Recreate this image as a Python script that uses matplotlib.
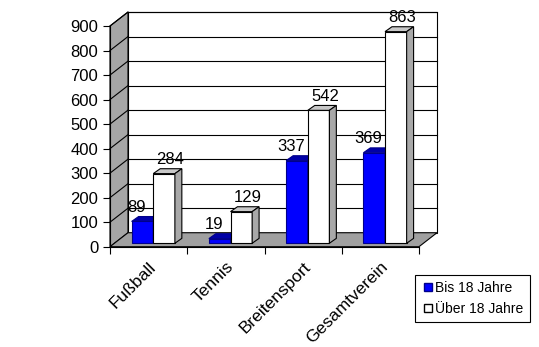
import numpy as np
import matplotlib.pyplot as plt
from matplotlib.patches import Polygon
from matplotlib.lines import Line2D

plt.rcParams['font.family'] = ['Liberation Sans', 'DejaVu Sans']

categories = ['Fußball', 'Tennis', 'Breitensport', 'Gesamtverein']
bis18 = [89, 19, 337, 369]
ueber18 = [284, 129, 542, 863]
series_names = ['Bis 18 Jahre', 'Über 18 Jahre']
yticks = np.arange(0, 1000, 100)

W, H = 539, 347
fig = plt.figure(figsize=(W / 100, H / 100), dpi=100)
ax = fig.add_axes([110 / W, 1 - 246.7 / H, 309 / W, 220.7 / H])
ax.set_xlim(-0.5, 3.5)
ax.set_ylim(0, 900)
ax.patch.set_visible(False)

# depth of the pseudo-3D box (data units)
DX, DY = 0.233, 57
# bar depth and offset from front plane
BX0, BY0 = 0.06, 14
BDX, BDY = 0.09, 20
bw = 0.28

def poly(pts, fc, ec='black', lw=0.8, z=1):
    ax.add_patch(Polygon(pts, closed=True, facecolor=fc, edgecolor=ec,
                         linewidth=lw, clip_on=False, zorder=z))

x0, x1 = -0.5, 3.5
ytop = yticks[-1]
# back wall
poly([(x0 + DX, DY), (x1 + DX, DY), (x1 + DX, ytop + DY), (x0 + DX, ytop + DY)], 'white', z=0)
# left wall
poly([(x0, 0), (x0 + DX, DY), (x0 + DX, ytop + DY), (x0, ytop)], '#a6a6a6', z=0.5)
# floor
poly([(x0, 0), (x1, 0), (x1 + DX, DY), (x0 + DX, DY)], '#a0a0a0', z=0.6)
# gridlines
for v in yticks[1:]:
    ax.plot([x0 + DX, x1 + DX], [v + DY, v + DY], color='black', lw=0.8, zorder=0.4, clip_on=False)
    ax.plot([x0, x0 + DX], [v, v + DY], color='black', lw=0.8, zorder=0.55, clip_on=False)

def bar3d(xl, h, front, top, side, ec):
    xf = xl + BX0
    yf = BY0
    ax.bar(xf, h, bottom=yf, width=bw, align='edge', color=front,
           edgecolor=ec, linewidth=0.8, zorder=2, clip_on=False)
    poly([(xf, yf + h), (xf + bw, yf + h), (xf + bw + BDX, yf + h + BDY), (xf + BDX, yf + h + BDY)],
         top, ec=ec, z=2)
    poly([(xf + bw, yf), (xf + bw + BDX, yf + BDY), (xf + bw + BDX, yf + h + BDY), (xf + bw, yf + h)],
         side, ec=ec, z=2)

xs = np.arange(len(categories))
for i in xs:
    bar3d(i - bw, bis18[i], '#0000ff', '#0000a8', '#000090', '#00008a')
    bar3d(i, ueber18[i], 'white', '#c8c8c8', '#a8a8a8', 'black')

# value labels (blue ones sit a bit to the left, white ones a bit to the right)
for i in xs:
    for xl, v, dx in [(i - bw, bis18[i], -6.5), (i, ueber18[i], 2)]:
        ax.annotate(str(v), (xl + BX0 + bw / 2 + BDX / 2, v + BY0 + BDY / 2),
                    xytext=(dx, 3), textcoords='offset points',
                    ha='center', va='bottom', fontsize=12, zorder=3)

ax.spines['top'].set_visible(False)
ax.spines['right'].set_visible(False)
for s in ['left', 'bottom']:
    ax.spines[s].set_zorder(1)
    ax.spines[s].set_linewidth(0.8)
ax.set_yticks(yticks)
ax.tick_params(axis='y', length=5, width=0.8, labelsize=12, pad=3.5)
ax.set_xticks(xs)
ax.set_xticklabels(categories, rotation=45, ha='right', va='top', rotation_mode='anchor')
ax.tick_params(axis='x', which='major', length=0, labelsize=12.5, pad=9)
ax.set_xticks(np.arange(-0.5, 4, 1), minor=True)
ax.tick_params(axis='x', which='minor', length=5, width=0.8)

handles = [Line2D([], [], marker='s', ls='', markersize=6, markerfacecolor='#0000ff', markeredgecolor='#00008a'),
           Line2D([], [], marker='s', ls='', markersize=6, markerfacecolor='white', markeredgecolor='black')]
leg = fig.legend(handles, series_names, loc='upper left', bbox_to_anchor=(415 / W, 1 - 275 / H),
                 fontsize=10, frameon=True, fancybox=False, edgecolor='black', framealpha=1,
                 handletextpad=0.1, handlelength=0.9, borderpad=0.45, labelspacing=0.5,
                 borderaxespad=0)
leg.get_frame().set_linewidth(0.8)

fig.savefig('out.png', dpi=100)
